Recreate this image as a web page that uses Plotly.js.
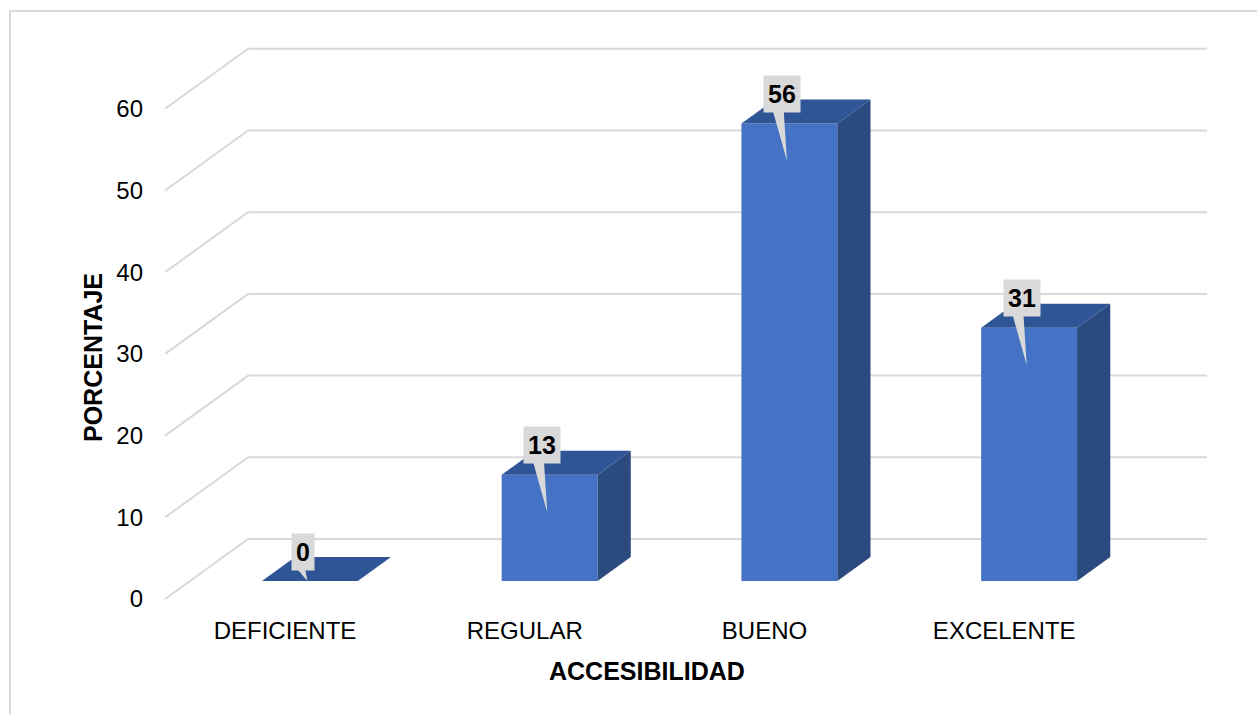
<!DOCTYPE html>
<html>
<head>
<meta charset="utf-8">
<script src="https://cdn.plot.ly/plotly-3.0.1.min.js"></script>
<style>html,body{margin:0;padding:0;background:#fff;}#chart{width:1257px;height:714px;}</style>
</head>
<body>
<div id="chart"></div>
<script>
// ---- data ----
const categories = ['DEFICIENTE', 'REGULAR', 'BUENO', 'EXCELENTE'];
const values = [0, 13, 56, 31];
const yTickValues = [0, 10, 20, 30, 40, 50, 60];
const yTickLabels = ['0', '10', '20', '30', '40', '50', '60'];
const xTitle = 'ACCESIBILIDAD';
const yTitle = 'PORCENTAJE';

// ---- geometry / style ----
const W = 1257, H = 714;
const M = {l: 150, r: 40, t: 20, b: 100};
const PX_CAT = 239.75;      // px per category
const PX_UNIT = 8.17;       // px per value unit
const ORIGIN_X = 190;       // pixel of x=-0.5 on the bar plane
const ORIGIN_Y = 581;       // pixel of value 0 on the bar plane
const DX = 83 / PX_CAT;     // full depth in x units
const DY = 60 / PX_UNIT;    // full depth in y units
const FRONT = 0.3;          // bar plane depth fraction from front
const BAR_D = 0.4;          // bar depth fraction
const BACK = 1 - FRONT;     // back wall offset from bar plane
const BAR_W = 0.4;
const C_FRONT = '#4472C4', C_TOP = '#2F5597', C_SIDE = '#2A4A80';
const GRID = '#D9D9D9';
const FONT = 'Liberation Sans, Arial, sans-serif';

const plotW = W - M.l - M.r, plotH = H - M.t - M.b;
const xRange = [-0.5 - (ORIGIN_X - M.l) / PX_CAT, -0.5 + (M.l + plotW - ORIGIN_X) / PX_CAT];
const yRange = [-(M.t + plotH - ORIGIN_Y) / PX_UNIT, (ORIGIN_Y - M.t) / PX_UNIT];
const n = categories.length;
const idx = categories.map((_, i) => i);

const traces = [];
// front faces
traces.push({
  type: 'bar', x: idx, y: values, width: BAR_W,
  marker: {color: C_FRONT, line: {width: 0}}, hoverinfo: 'skip', showlegend: false
});
// side and top faces
values.forEach((v, i) => {
  const xl = i - BAR_W / 2, xr = i + BAR_W / 2;
  const ox = BAR_D * DX, oy = BAR_D * DY;
  traces.push({
    type: 'scatter', mode: 'lines', fill: 'toself', fillcolor: C_SIDE,
    x: [xr, xr + ox, xr + ox, xr, xr], y: [0, oy, v + oy, v, 0],
    line: {width: 0, color: C_SIDE}, hoverinfo: 'skip', showlegend: false
  });
  traces.push({
    type: 'scatter', mode: 'lines', fill: 'toself', fillcolor: C_TOP,
    x: [xl, xr, xr + ox, xl + ox, xl], y: [v, v, v + oy, v + oy, v],
    line: {width: 0, color: C_TOP}, hoverinfo: 'skip', showlegend: false
  });
});
// callout wedges
values.forEach((v, i) => {
  const tip = Math.max(v - 4.6, 0);
  traces.push({
    type: 'scatter', mode: 'lines', fill: 'toself', fillcolor: '#D9D9D9',
    x: [i - 0.075, i - 0.025, i - 0.01, i - 0.075], y: [v + 2.2, v + 2.2, tip, v + 2.2],
    line: {width: 0, color: '#D9D9D9'}, hoverinfo: 'skip', showlegend: false
  });
});

// gridlines (back wall + side wall diagonals)
const shapes = [];
yTickValues.forEach(v => {
  const bx0 = -0.5 + BACK * DX, bx1 = n - 0.5 + BACK * DX, by = v + BACK * DY;
  shapes.push({type: 'line', xref: 'x', yref: 'y', layer: 'below', x0: bx0, x1: bx1, y0: by, y1: by,
    line: {color: GRID, width: 2}});
  shapes.push({type: 'line', xref: 'x', yref: 'y', layer: 'below', x0: bx0, y0: by,
    x1: -0.5 - FRONT * DX, y1: v - FRONT * DY, line: {color: GRID, width: 2}});
});
// outer frame
const px2paperX = p => (p - M.l) / plotW;
const px2paperY = p => (M.t + plotH - p) / plotH;
shapes.push({type: 'rect', xref: 'paper', yref: 'paper', layer: 'below',
  x0: px2paperX(10), x1: px2paperX(1270), y0: px2paperY(11), y1: px2paperY(730),
  line: {color: GRID, width: 2}, fillcolor: 'rgba(0,0,0,0)'});

// annotations: data labels and titles
const annotations = values.map((v, i) => ({
  x: i - 0.03, y: v + 3.6, xref: 'x', yref: 'y', text: '<b>' + v + '</b>', showarrow: false,
  bgcolor: '#D9D9D9', borderpad: 4, font: {family: FONT, size: 25, color: '#000'}
}));
annotations.push({
  xref: 'paper', yref: 'paper', x: px2paperX(647), y: px2paperY(671), text: '<b>' + xTitle + '</b>',
  showarrow: false, font: {family: FONT, size: 25, color: '#000'}, xanchor: 'center', yanchor: 'middle'
});
annotations.push({
  xref: 'paper', yref: 'paper', x: px2paperX(93), y: px2paperY(358), text: '<b>' + yTitle + '</b>',
  textangle: -90, showarrow: false, font: {family: FONT, size: 25, color: '#000'}, xanchor: 'center', yanchor: 'middle'
});

const layout = {
  width: W, height: H, margin: M, paper_bgcolor: '#fff', plot_bgcolor: 'rgba(0,0,0,0)',
  showlegend: false, hovermode: false, barmode: 'overlay',
  xaxis: {
    range: xRange, showgrid: false, zeroline: false, showline: false, ticks: '',
    tickmode: 'array', tickvals: idx.map(i => i - FRONT * DX), ticktext: categories,
    tickfont: {family: FONT, size: 24, color: '#000'}, fixedrange: true
  },
  yaxis: {
    range: yRange, showgrid: false, zeroline: false, showline: false, ticks: '',
    tickmode: 'array', tickvals: yTickValues.map(v => v - FRONT * DY), ticktext: yTickLabels,
    tickfont: {family: FONT, size: 24, color: '#000'}, fixedrange: true, ticklabelstandoff: 6
  },
  shapes: shapes, annotations: annotations
};

Plotly.newPlot('chart', traces, layout, {displayModeBar: false, staticPlot: true});
</script>
</body>
</html>
